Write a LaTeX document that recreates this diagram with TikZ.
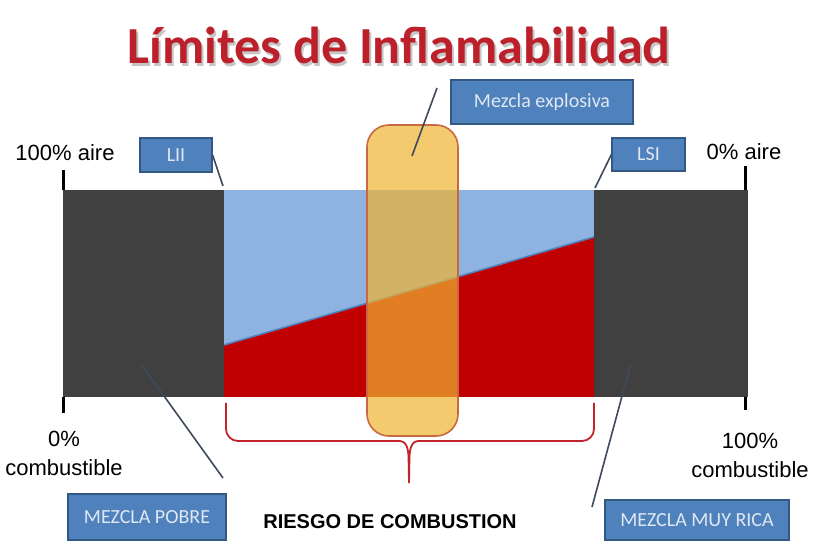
\documentclass[tikz,border=0pt]{standalone}
\usepackage{fontspec}
\setmainfont{Liberation Sans}
\newfontfamily\calibri{Carlito}
\usetikzlibrary{calc}
\definecolor{blockgray}{RGB}{64,64,64}
\definecolor{airblue}{RGB}{142,179,225}
\definecolor{fuelred}{RGB}{192,0,0}
\definecolor{tagblue}{RGB}{79,129,189}
\definecolor{tagedge}{RGB}{52,88,132}
\definecolor{zoneyellow}{RGB}{240,180,50}
\definecolor{zoneedge}{RGB}{200,105,65}
\definecolor{titlered}{RGB}{188,32,42}
\definecolor{leadgray}{RGB}{62,74,92}
\definecolor{bracered}{RGB}{195,35,45}

\begin{document}
\begin{tikzpicture}[x=0.5pt, y=-0.5pt,
  tag/.style={fill=tagblue, draw=tagedge, line width=0.6pt, text=white!82!tagblue,
    font=\calibri\fontsize{10}{12}\selectfont, inner sep=0pt},
  lead/.style={leadgray, line width=0.8pt},
  tick/.style={black, line width=1.5pt},
  scale text/.style={font=\fontsize{11}{14.5}\selectfont, align=center}]
  \useasboundingbox (0,0) rectangle (840,560);
  % Title
  \node[gray!45, font=\calibri\bfseries\fontsize{26}{30}\selectfont] at (401,48) {Límites de Inflamabilidad};
  \node (title) [titlered, font=\calibri\bfseries\fontsize{26}{30}\selectfont] at (399,45) {Límites de Inflamabilidad};
  % Lean and rich blocks
  \fill[blockgray] (63,190) rectangle (224,397);
  \fill[blockgray] (594,190) rectangle (748,397);
  % Air / fuel band
  \fill[airblue] (224,190) rectangle (594,397);
  \fill[fuelred] (224,345) -- (594,237) -- (594,397) -- (224,397) -- cycle;
  \draw[tagblue, line width=0.8pt] (224,345) -- (594,237);
  % Explosive zone
  \draw[zoneedge, line width=0.8pt, fill=zoneyellow, fill opacity=0.7, rounded corners=11]
    (367,125) rectangle (458,436);
  \coordinate (zone) at (412,156);
  % Scale ticks
  \draw[tick] (63,170) -- (63,190);
  \draw[tick] (63,397) -- (63,413);
  \draw[tick] (745,166) -- (745,190);
  \draw[tick] (745,397) -- (745,410);
  \node (airL) [scale text] at (65,153) {100\% aire};
  \node (airR) [scale text] at (744,152) {0\% aire};
  \node (fuelL) [scale text] at (64,453) {0\%\\combustible};
  \node (fuelR) [scale text] at (750,455) {100\%\\combustible};
  % Combustion risk brace
  \coordinate (braceTip) at (409,483);
  \draw[bracered, line width=0.9pt, rounded corners=6]
    (226,403) -- (226,441) -- (399,441);
  \draw[bracered, line width=0.9pt]
    (399,441) .. controls (406,441) and (408.5,447) .. (408.6,460) -- (braceTip)
    -- (409.4,460) .. controls (409.5,447) and (412,441) .. (419,441);
  \draw[bracered, line width=0.9pt, rounded corners=6]
    (419,441) -- (594,441) -- (594,403);
  \node (riesgo) [font=\bfseries\fontsize{10}{12}\selectfont] at (390,522) {RIESGO DE COMBUSTION};
  % Tags
  \node (lii) [tag, minimum width=36pt, minimum height=17pt] at (176,155) {LII};
  \node (lsi) [tag, minimum width=36.5pt, minimum height=16.5pt] at (648.5,154.5) {LSI};
  \node (expl) [tag, minimum width=91pt, minimum height=22pt] at (542,102) {Mezcla explosiva};
  \node (pobre) [tag, minimum width=79pt, minimum height=23pt] at (147,517) {MEZCLA POBRE};
  \node (rica) [tag, minimum width=92pt, minimum height=20pt] at (697,520) {MEZCLA MUY RICA};
  % Leaders
  \coordinate (liiEnd) at (223,186);
  \coordinate (lsiEnd) at (595,188);
  \coordinate (explStart) at (437,88);
  \coordinate (pobreStart) at (223,478);
  \coordinate (pobreEnd) at (141,364);
  \coordinate (ricaStart) at (592,507);
  \coordinate (ricaEnd) at (631,363);
  \draw[lead] (lii.east) -- (liiEnd);
  \draw[lead] (lsi.west) -- (lsiEnd);
  \draw[lead] (explStart) -- (zone);
  \draw[lead] (pobreStart) -- (pobreEnd);
  \draw[lead] (ricaStart) -- (ricaEnd);
\end{tikzpicture}
\end{document}
